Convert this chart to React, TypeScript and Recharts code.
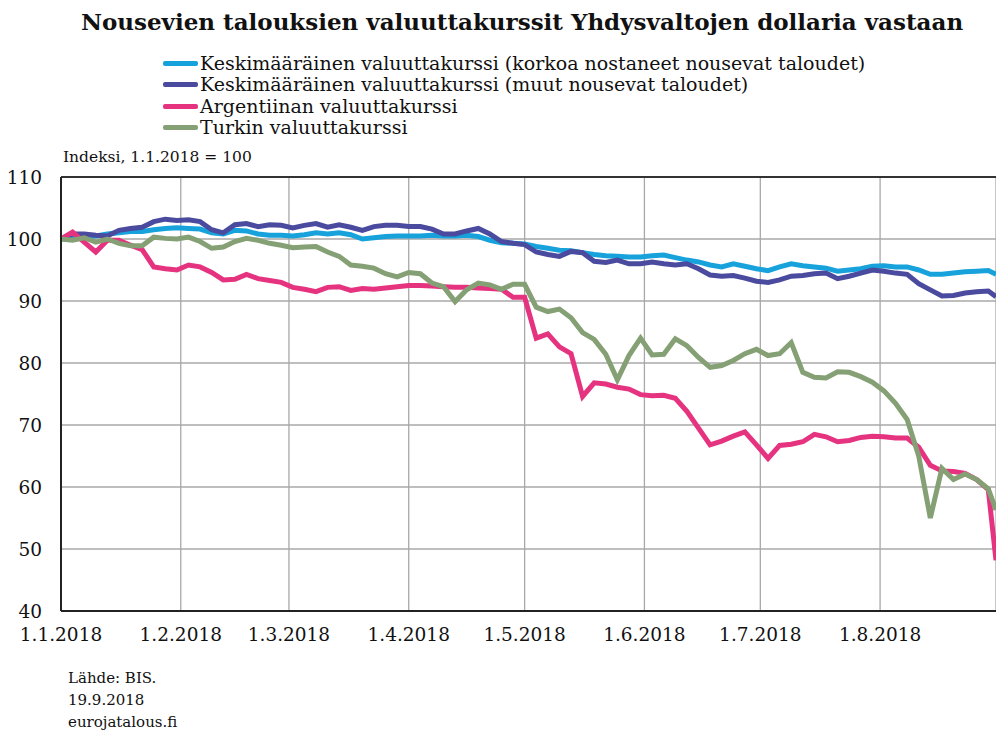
import { LineChart, Line, XAxis, YAxis, CartesianGrid, ReferenceLine } from 'recharts';

// päivä vuoden alusta (0 = 1.1.2018), n. 3 päivän välein
const days = [
  0, 3, 6, 9, 12, 15, 18, 21, 24, 27, 30, 33, 36, 39, 42, 45, 48, 51, 54, 57,
  60, 63, 66, 69, 72, 75, 78, 81, 84, 87, 90, 93, 96, 99, 102, 105, 108, 111, 114, 117,
  120, 123, 126, 129, 132, 135, 138, 141, 144, 147, 150, 153, 156, 159, 162, 165, 168, 171, 174, 177,
  180, 183, 186, 189, 192, 195, 198, 201, 204, 207, 210, 213, 216, 219, 222, 225, 228, 231, 234, 237,
  240, 242,
];

const raisedRate = [
  100, 100.2, 100.4, 100.5, 100.8, 101, 101.2, 101.2, 101.5, 101.7, 101.8, 101.7, 101.6, 101, 100.8, 101.4, 101.3, 100.8, 100.6, 100.6,
  100.5, 100.7, 101, 100.8, 101, 100.7, 100, 100.2, 100.4, 100.5, 100.5, 100.5, 100.6, 100.5, 100.5, 100.6, 100.4, 99.8, 99.4, 99.3,
  99.2, 98.8, 98.5, 98.2, 98.1, 97.8, 97.5, 97.3, 97.2, 97.1, 97.1, 97.3, 97.4, 97, 96.6, 96.3, 95.8, 95.5, 96, 95.6,
  95.2, 94.9, 95.5, 96, 95.7, 95.5, 95.3, 94.8, 95, 95.2, 95.6, 95.7, 95.5, 95.5, 95, 94.3, 94.3, 94.5, 94.7, 94.8,
  94.9, 94.3,
];

const otherEm = [
  100, 100.8, 100.8, 100.6, 100.5, 101.4, 101.7, 101.9, 102.8, 103.2, 103, 103.1, 102.8, 101.5, 101, 102.3, 102.5, 102, 102.3, 102.2,
  101.8, 102.2, 102.5, 101.9, 102.3, 101.9, 101.4, 102, 102.2, 102.2, 102, 102, 101.6, 100.8, 100.8, 101.3, 101.7, 100.8, 99.6, 99.3,
  99.1, 97.9, 97.5, 97.2, 98, 97.8, 96.4, 96.2, 96.6, 96, 96, 96.3, 96, 95.8, 96, 95.2, 94.2, 94, 94.1, 93.7,
  93.2, 93, 93.4, 94, 94.1, 94.4, 94.5, 93.6, 94, 94.5, 95, 94.8, 94.5, 94.3, 92.8, 91.8, 90.8, 90.9, 91.3, 91.5,
  91.6, 90.7,
];

const argentina = [
  100, 101.1, 99.5, 97.9, 99.8, 99.8, 99, 98.3, 95.5, 95.2, 95, 95.8, 95.5, 94.6, 93.4, 93.5, 94.3, 93.6, 93.3, 93,
  92.2, 91.9, 91.5, 92.2, 92.3, 91.7, 92, 91.9, 92.1, 92.3, 92.5, 92.5, 92.4, 92.3, 92.2, 92.2, 92.1, 92, 91.9, 90.6,
  90.6, 84, 84.7, 82.6, 81.5, 74.6, 76.8, 76.6, 76.1, 75.8, 74.9, 74.7, 74.8, 74.3, 72.2, 69.5, 66.8, 67.4, 68.2, 68.9,
  66.8, 64.6, 66.7, 66.9, 67.3, 68.5, 68.1, 67.3, 67.5, 68, 68.2, 68.1, 67.9, 67.9, 66.4, 63.5, 62.6, 62.5, 62.2, 61.2,
  59.6, 48.2,
];

const turkey = [
  100, 99.8, 100.2, 99.5, 100, 99.3, 98.9, 98.9, 100.3, 100.1, 100, 100.3, 99.6, 98.5, 98.7, 99.6, 100.1, 99.8, 99.3, 99,
  98.6, 98.7, 98.8, 97.9, 97.2, 95.8, 95.6, 95.3, 94.4, 93.9, 94.6, 94.4, 92.9, 92.3, 89.9, 91.8, 92.9, 92.6, 91.9, 92.7,
  92.7, 89, 88.3, 88.7, 87.3, 84.9, 83.8, 81.4, 77.3, 81.2, 84, 81.3, 81.4, 83.9, 82.8, 80.9, 79.3, 79.6, 80.4, 81.5,
  82.2, 81.2, 81.5, 83.3, 78.5, 77.7, 77.6, 78.6, 78.5, 77.8, 76.9, 75.5, 73.5, 70.9, 65, 55, 63, 61.2, 62.1, 61.2,
  59.7, 56.3,
];

const monthStarts = [0, 31, 59, 90, 120, 151, 181, 212];
const monthLabels = ['1.1.2018', '1.2.2018', '1.3.2018', '1.4.2018', '1.5.2018', '1.6.2018', '1.7.2018', '1.8.2018'];
const yTicks = [40, 50, 60, 70, 80, 90, 100, 110];

const series = [
  { key: 'raised', name: 'Keskimääräinen valuuttakurssi (korkoa nostaneet nousevat taloudet)', color: '#17a2dc', values: raisedRate },
  { key: 'other', name: 'Keskimääräinen valuuttakurssi (muut nousevat taloudet)', color: '#4a4a9e', values: otherEm },
  { key: 'arg', name: 'Argentiinan valuuttakurssi', color: '#e5337f', values: argentina },
  { key: 'tur', name: 'Turkin valuuttakurssi', color: '#84a074', values: turkey },
];

const data = days.map((d, i) => {
  const row: Record<string, number> = { day: d };
  series.forEach(s => { row[s.key] = s.values[i]; });
  return row;
});

const font = 'DejaVu Serif';

export default function App() {
  return (
    <div style={{ position: 'absolute', left: 0, top: 0, width: 996, height: 733, background: '#fff', fontFamily: font, color: '#111' }}>
      <div style={{ position: 'absolute', top: 8, left: 0, width: 1044, textAlign: 'center', fontSize: 23, lineHeight: '28px', fontWeight: 'bold', whiteSpace: 'nowrap' }}>
        Nousevien talouksien valuuttakurssit Yhdysvaltojen dollaria vastaan
      </div>

      <div style={{ position: 'absolute', top: 53, left: 163 }}>
        {series.map(s => (
          <div key={s.key} style={{ display: 'flex', alignItems: 'center', height: 21.3, lineHeight: '21px', fontSize: 19, whiteSpace: 'nowrap' }}>
            <div style={{ width: 35, height: 5, background: s.color, marginRight: 2, borderRadius: 2 }} />
            <span>{s.name}</span>
          </div>
        ))}
      </div>

      <div style={{ position: 'absolute', top: 148, left: 63, fontSize: 15.5, lineHeight: '18px', whiteSpace: 'nowrap' }}>
        Indeksi, 1.1.2018 = 100
      </div>

      <LineChart
        width={996}
        height={733}
        data={data}
        margin={{ top: 177, right: 0, bottom: 0, left: 0 }}
        style={{ fontFamily: font }}
      >
        <CartesianGrid stroke="#a8a8a8" strokeWidth={1.3} />
        <ReferenceLine y={110} stroke="#333" strokeWidth={2} />
        <XAxis
          type="number"
          dataKey="day"
          domain={[0, 242]}
          ticks={monthStarts}
          tickFormatter={(v) => monthLabels[monthStarts.indexOf(v)]}
          height={122}
          tickSize={0}
          tickMargin={17}
          axisLine={{ stroke: '#222', strokeWidth: 2 }}
          tick={{ fill: '#111', fontSize: 18.5 }}
          interval={0}
        />
        <YAxis
          type="number"
          domain={[40, 110]}
          ticks={yTicks}
          width={61}
          tickSize={0}
          tickMargin={19}
          axisLine={{ stroke: '#222', strokeWidth: 2 }}
          tick={{ fill: '#111', fontSize: 18.5 }}
          interval={0}
        />
        {series.map(s => (
          <Line
            key={s.key}
            type="linear"
            dataKey={s.key}
            stroke={s.color}
            strokeWidth={5}
            dot={false}
            isAnimationActive={false}
          />
        ))}
      </LineChart>

      <div style={{ position: 'absolute', top: 667, left: 68, fontSize: 15, lineHeight: '22px' }}>
        <div>Lähde: BIS.</div>
        <div>19.9.2018</div>
        <div>eurojatalous.fi</div>
      </div>
    </div>
  );
}
